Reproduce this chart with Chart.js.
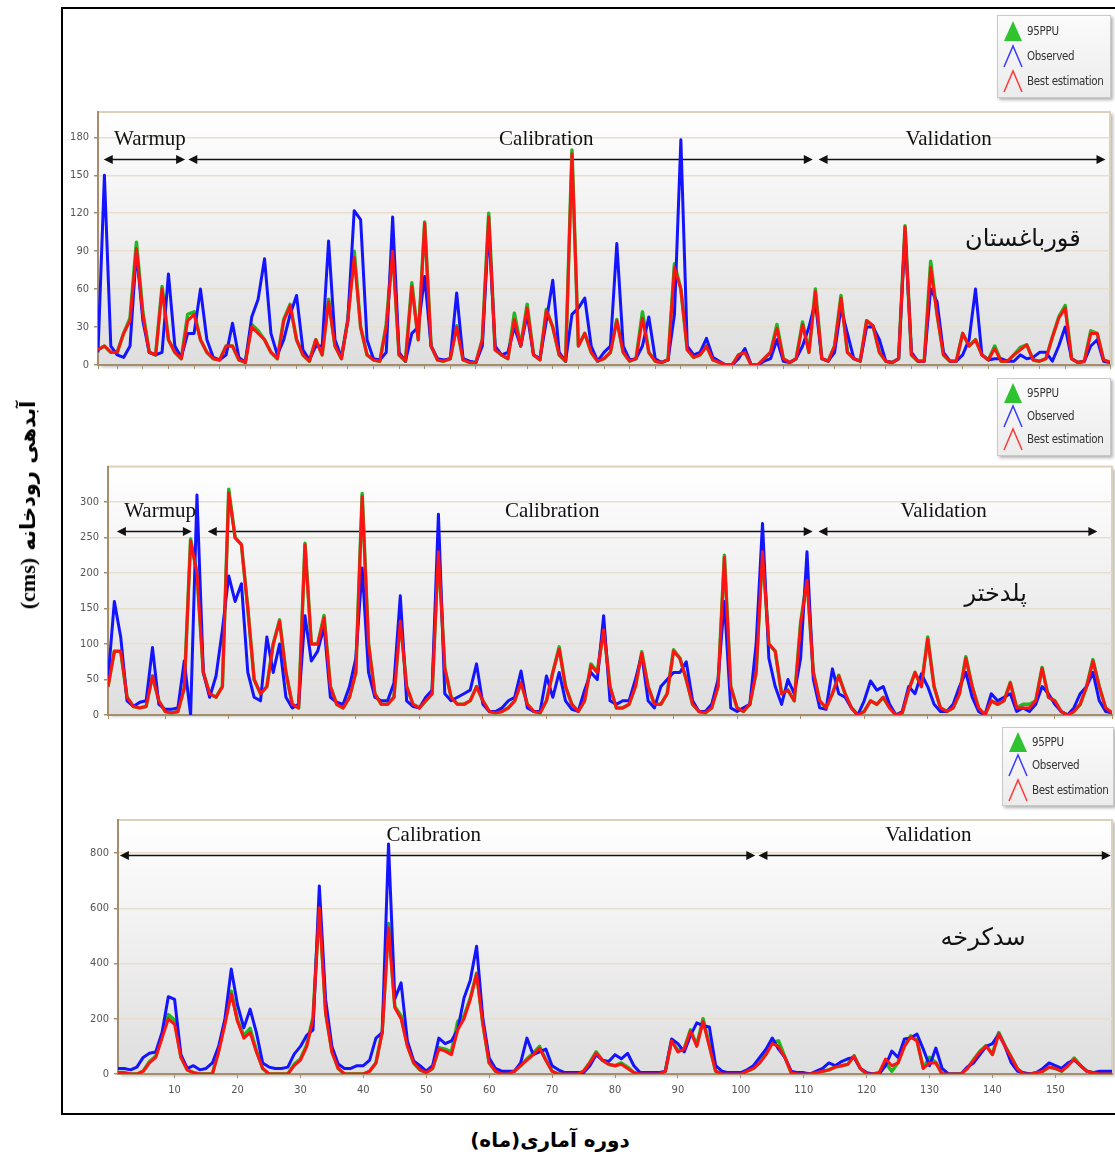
<!DOCTYPE html>
<html lang="fa">
<head>
<meta charset="UTF-8">
<title>Observed vs best estimation - three stations</title>
<script src="https://cdn.jsdelivr.net/npm/chart.js@4.4.1/dist/chart.umd.min.js"></script>
<style>
    body {
        margin: 0;
        width: 1115px;
        height: 1160px;
        overflow: hidden;
        position: relative;
        background: #fff;
        font-family: 'DejaVu Sans', sans-serif;
    }
    .frame {
        position: absolute;
        left: 61px; top: 7px;
        width: 1100px; height: 1108px;
        border: 2px solid #000;
        box-sizing: border-box;
    }
    canvas { position: absolute; left: 0; }
    .legend {
        position: absolute;
        background: linear-gradient(#fbfbfb, #ececec);
        border: 1px solid #c9c9c9;
        box-shadow: 2px 2px 3px rgba(0,0,0,.3);
        font: 11.5px 'DejaVu Sans Condensed', 'DejaVu Sans', sans-serif;
        color: #333;
        z-index: 2;
    }
    .legend .row {
        position: absolute; left: 5px; height: 24px;
        display: flex; align-items: center; gap: 4px;
        white-space: nowrap;
        letter-spacing: -0.3px;
    }
    .ytitle {
        position: absolute; left: 28px; top: 505px;
        transform: translate(-50%, -50%) rotate(-90deg);
        white-space: nowrap;
        font-weight: bold; font-size: 21px;
        direction: rtl;
    }
    .ytitle .cms { font-family: 'Liberation Serif', serif; font-size: 22px; unicode-bidi: isolate; direction: ltr; }
    .xtitle {
        position: absolute; left: 550px; top: 1140px;
        transform: translate(-50%, -50%);
        white-space: nowrap;
        font-weight: bold; font-size: 20px;
        direction: rtl;
    }
</style>
</head>
<body>

<div class="frame"></div>

<canvas id="c1" width="1115" height="280" style="top:100px"></canvas>
<canvas id="c2" width="1115" height="275" style="top:455px"></canvas>
<canvas id="c3" width="1115" height="305" style="top:805px"></canvas>

<div class="legend" style="left:997px;top:15px;width:112px;height:81px">
    <div class="row" style="top:3px"><svg width="20" height="22"><polygon points="10,1 19,21 1,21" fill="#2fc42f"/></svg>95PPU</div>
    <div class="row" style="top:28px"><svg width="20" height="24"><polyline points="1,23 10,2 19,23" fill="none" stroke="#3a3aff" stroke-width="1.5"/></svg>Observed</div>
    <div class="row" style="top:53px"><svg width="20" height="24"><polyline points="1,23 10,2 19,23" fill="none" stroke="#ff3a3a" stroke-width="1.5"/></svg>Best estimation</div>
</div>
<div class="legend" style="left:997px;top:378px;width:112px;height:76px">
    <div class="row" style="top:2px"><svg width="20" height="22"><polygon points="10,1 19,21 1,21" fill="#2fc42f"/></svg>95PPU</div>
    <div class="row" style="top:25px"><svg width="20" height="24"><polyline points="1,23 10,2 19,23" fill="none" stroke="#3a3aff" stroke-width="1.5"/></svg>Observed</div>
    <div class="row" style="top:48px"><svg width="20" height="24"><polyline points="1,23 10,2 19,23" fill="none" stroke="#ff3a3a" stroke-width="1.5"/></svg>Best estimation</div>
</div>
<div class="legend" style="left:1002px;top:727px;width:110px;height:77px">
    <div class="row" style="top:2px"><svg width="20" height="22"><polygon points="10,1 19,21 1,21" fill="#2fc42f"/></svg>95PPU</div>
    <div class="row" style="top:25px"><svg width="20" height="24"><polyline points="1,23 10,2 19,23" fill="none" stroke="#3a3aff" stroke-width="1.5"/></svg>Observed</div>
    <div class="row" style="top:50px"><svg width="20" height="24"><polyline points="1,23 10,2 19,23" fill="none" stroke="#ff3a3a" stroke-width="1.5"/></svg>Best estimation</div>
</div>

<div class="ytitle">آبدهی رودخانه <span class="cms">(cms)</span></div>
<div class="xtitle" dir="rtl">دوره آماری(ماه)</div>

<script>
// months of the record
const months = Array.from({length: 159}, (_, i) => i + 1);

// --- station 1: Ghorbaghestan ---
const p1Observed = [
    10,150,15,8,6,15,90,35,10,8,10,72,15,6,25,25,60,20,6,4,
    8,33,6,2,38,52,84,25,8,20,40,55,12,4,15,15,98,20,6,35,
    122,115,20,5,4,10,117,10,3,25,30,70,15,5,4,5,57,5,3,2,
    15,110,15,8,10,30,15,40,8,5,35,67,10,3,40,45,53,15,3,10,
    15,96,15,4,5,15,38,5,2,4,40,178,15,8,10,21,6,3,0,0,
    5,13,0,0,3,5,20,3,2,5,15,30,50,5,3,10,45,25,5,3,
    30,30,20,3,2,5,105,10,3,3,60,50,10,3,3,8,20,60,8,4,
    5,5,3,3,8,5,6,10,10,3,15,30,5,2,3,15,20,3,2
];
const p1Best = [
    12,15,10,10,25,35,92,40,10,8,60,20,10,5,35,40,20,10,5,4,
    15,15,4,2,30,25,20,10,5,35,47,20,8,3,20,8,50,15,5,35,
    85,30,8,4,3,30,90,8,3,62,20,112,15,4,3,5,30,4,2,2,
    20,117,12,8,5,36,15,45,8,4,43,30,8,3,167,15,25,10,3,5,
    10,35,10,3,5,37,10,3,2,4,77,60,12,6,8,15,4,2,0,0,
    8,10,0,0,5,10,29,5,2,5,32,10,58,5,3,15,53,10,5,3,
    35,31,10,3,2,5,109,8,3,3,77,40,8,3,3,25,15,20,8,4,
    13,3,3,8,12,16,4,3,5,22,37,45,5,2,3,25,25,4,2
];
const p1Ppu = [
    12,15,10,10,25,37,97,42,10,8,62,20,10,5,40,42,20,10,5,4,
    15,15,4,2,32,27,20,10,5,36,48,20,8,3,20,8,52,15,5,36,
    90,30,8,4,3,32,92,8,3,65,20,113,15,4,3,5,31,4,2,2,
    20,120,12,8,5,41,15,48,8,4,44,30,8,3,170,15,25,10,3,5,
    10,36,10,3,5,42,10,3,2,4,80,60,12,6,8,15,4,2,0,0,
    8,10,0,0,5,10,32,5,2,5,34,10,60,5,3,15,55,10,5,3,
    35,31,10,3,2,5,110,8,3,3,82,40,8,3,3,25,15,20,8,4,
    15,3,3,8,14,16,4,3,5,22,38,47,5,2,3,27,25,4,2
];
const p1YTicks = [0, 30, 60, 90, 120, 150, 180];
const p1Periods = ['Warmup', 'Calibration', 'Validation'];
const p1PeriodFrom = [1.9, 15.1, 113.5];
const p1PeriodTo = [14.6, 112.6, 158.3];
const p1LabelAt = [9.1, 71, 133.8];

// --- station 2: Poldokhtar ---
const p2Observed = [
    50,160,110,20,12,18,20,95,15,8,8,10,76,0,310,60,25,55,120,196,
    160,185,60,25,20,110,60,100,25,10,15,140,76,90,125,25,18,15,40,80,
    207,60,25,20,20,45,168,20,12,10,25,35,283,30,20,25,30,35,72,15,
    5,5,10,20,25,62,10,5,5,55,25,60,20,8,5,35,60,50,140,20,
    15,20,20,50,85,20,10,40,50,60,60,75,20,5,5,15,50,160,10,5,
    10,15,100,270,80,40,15,50,30,80,230,50,10,8,65,30,25,10,0,20,
    48,35,40,15,0,5,40,30,58,40,15,5,5,15,40,60,25,5,0,30,
    20,25,30,5,10,5,15,40,30,15,5,0,10,30,40,60,20,5,3
];
const p2Best = [
    40,90,90,25,12,10,12,55,20,5,3,5,38,245,200,60,30,25,40,313,
    250,240,150,50,30,40,100,132,60,15,10,240,100,100,137,40,15,10,25,60,
    308,100,30,15,15,25,132,40,15,10,20,30,230,66,25,15,15,20,40,20,
    5,3,5,10,20,45,15,5,3,20,60,93,40,15,5,20,70,60,120,40,
    10,10,15,40,87,40,15,15,30,90,80,50,15,5,3,10,40,222,40,10,
    5,15,60,230,100,90,30,35,20,128,190,60,20,10,30,55,30,10,0,5,
    20,15,25,10,0,3,35,60,40,107,40,10,5,10,30,80,40,10,0,20,
    15,20,45,10,10,10,20,66,25,20,5,0,5,15,40,76,40,10,3
];
const p2Ppu = [
    40,90,90,25,12,10,12,55,20,5,3,5,38,248,200,60,30,25,40,318,
    250,240,150,50,30,40,100,134,60,15,10,242,100,100,140,40,15,10,25,60,
    312,100,30,15,15,25,135,40,15,10,20,30,232,66,25,15,15,20,40,20,
    5,3,5,10,20,46,15,5,3,20,60,96,40,15,5,20,72,60,122,40,
    10,10,15,40,89,40,15,15,30,92,80,50,15,5,3,10,40,225,40,10,
    5,15,60,232,100,90,30,35,20,130,192,60,20,10,30,56,30,10,0,5,
    20,15,25,10,0,3,35,60,40,110,40,10,5,10,30,82,40,10,0,20,
    15,20,46,10,15,15,20,67,25,20,5,0,5,15,40,78,40,10,3
];
const p2YTicks = [0, 50, 100, 150, 200, 250, 300];
const p2Periods = ['Warmup', 'Calibration', 'Validation'];
const p2PeriodFrom = [2.4, 16.7, 112.8];
const p2PeriodTo = [14.2, 111.9, 156.7];
const p2LabelAt = [9.2, 70.9, 132.5];

// --- station 3: Sadd Karkheh ---
const p3Observed = [
    20,20,15,25,60,75,80,150,280,270,70,20,30,15,20,40,100,200,380,250,
    167,235,150,40,25,20,20,25,72,100,140,160,681,270,100,36,20,20,30,30,
    50,130,150,833,272,330,120,47,30,10,30,130,110,120,160,275,340,463,200,58,
    20,10,10,10,40,130,70,80,90,30,15,5,5,5,5,30,70,50,45,70,
    55,75,30,5,5,5,5,10,127,110,80,140,185,175,170,30,10,5,5,5,
    15,30,60,90,130,90,60,10,5,5,0,10,20,40,30,45,55,60,20,5,
    0,0,30,83,60,127,130,145,90,30,94,20,0,0,0,25,40,70,100,110,
    145,100,40,10,5,0,5,20,40,30,20,40,50,30,10,5,10,10,10
];
const p3Best = [
    5,5,0,0,10,40,60,130,200,180,60,15,5,0,0,0,80,180,290,190,
    130,150,80,20,0,0,0,0,30,50,100,200,602,220,80,20,0,0,0,0,
    10,40,150,530,240,200,100,40,15,5,20,90,83,70,160,200,270,362,180,40,
    10,0,0,10,30,50,70,94,50,10,0,0,0,0,10,40,76,50,35,30,
    35,20,5,0,0,0,0,10,120,80,90,155,100,190,100,10,0,0,0,0,
    10,20,40,70,110,100,60,5,0,0,0,5,10,15,25,30,35,65,20,0,
    0,5,54,30,40,100,134,120,20,40,40,0,0,0,0,20,50,80,101,70,
    145,100,60,18,0,0,5,10,25,20,10,30,54,30,10,5,0,0,0
];
const p3Ppu = [
    5,5,0,0,10,45,65,140,215,195,62,15,5,0,0,0,85,190,300,195,
    140,165,85,20,0,0,0,0,35,55,105,205,610,225,82,20,0,0,0,0,
    10,40,155,545,245,210,105,40,15,5,20,95,90,80,190,210,275,365,182,40,
    10,0,0,10,30,55,75,100,52,10,0,0,0,0,10,42,80,50,35,30,
    40,25,5,0,0,0,0,10,122,85,92,160,105,200,105,10,0,0,0,0,
    10,20,42,75,115,120,62,5,0,0,0,5,10,15,25,30,35,66,20,0,
    0,5,40,10,42,102,138,122,22,60,42,0,0,0,0,20,52,82,103,72,
    150,102,60,18,0,0,5,10,25,20,10,32,58,30,10,5,0,0,0
];
const p3YTicks = [0, 200, 400, 600, 800];
const p3XTicks = [10, 20, 30, 40, 50, 60, 70, 80, 90, 100, 110, 120, 130, 140, 150];
const p3Periods = ['Calibration', 'Validation'];
const p3PeriodFrom = [1.3, 102.8];
const p3PeriodTo = [102.3, 158.8];
const p3LabelAt = [51.2, 129.8];

const stationNames = ['قورباغستان', 'پلدختر', 'سدکرخه'];

const brown = '#a68e6c';

// gradient plot area with beige frame, like the original software
const plotBg = {
    id: 'plotBg',
    beforeDraw(chart) {
        const {ctx, chartArea: a} = chart;
        ctx.save();
        ctx.shadowColor = 'rgba(0,0,0,0.28)';
        ctx.shadowOffsetX = 3; ctx.shadowOffsetY = 2; ctx.shadowBlur = 3;
        const g = ctx.createLinearGradient(0, a.top, 0, a.bottom);
        g.addColorStop(0, '#ffffff');
        g.addColorStop(1, '#dedede');
        ctx.fillStyle = g;
        ctx.fillRect(a.left, a.top, a.width, a.height);
        ctx.restore();
        ctx.save();
        ctx.strokeStyle = '#ddd1bc';
        ctx.lineWidth = 2;
        ctx.strokeRect(a.left, a.top, a.width, a.height);
        ctx.restore();
    }
};

function arrowHead(ctx, x, y, dir) {
    ctx.beginPath();
    ctx.moveTo(x, y);
    ctx.lineTo(x + dir * 9, y - 4.5);
    ctx.lineTo(x + dir * 9, y + 4.5);
    ctx.closePath();
    ctx.fill();
}

// period arrows (Warmup / Calibration / Validation) and station name
const periodArrows = {
    id: 'periodArrows',
    beforeDatasetsDraw(chart, args, o) {
        const {ctx} = chart;
        const xs = chart.scales.x, ys = chart.scales.y;
        const yy = Math.round(ys.getPixelForValue(o.level)) + 0.5;
        ctx.save();
        ctx.strokeStyle = '#111';
        ctx.fillStyle = '#111';
        ctx.lineWidth = 1.6;
        o.names.forEach((name, i) => {
            const x1 = xs.getPixelForValue(o.from[i]);
            const x2 = xs.getPixelForValue(o.to[i]);
            ctx.beginPath();
            ctx.moveTo(x1 + 5, yy);
            ctx.lineTo(x2 - 5, yy);
            ctx.stroke();
            arrowHead(ctx, x1, yy, 1);
            arrowHead(ctx, x2, yy, -1);
            ctx.font = '21px "Liberation Serif", serif';
            ctx.textAlign = 'center';
            ctx.fillText(name, xs.getPixelForValue(o.labelAt[i]), yy - 15);
        });
        ctx.font = '24px "DejaVu Sans", sans-serif';
        ctx.direction = 'rtl';
        ctx.textAlign = 'center';
        ctx.textBaseline = 'middle';
        ctx.fillText(o.station, xs.getPixelForValue(o.stationAt), ys.getPixelForValue(o.stationLevel));
        ctx.restore();
    }
};

function makePanel(id, p) {
    return new Chart(document.getElementById(id), {
        type: 'line',
        data: {
            labels: months,
            datasets: [
                {label: 'Best estimation', data: p.best, borderColor: '#ff1414', borderWidth: 3},
                {label: 'Observed', data: p.observed, borderColor: '#1414ff', borderWidth: 3},
                {label: '95PPU', data: p.ppu, borderColor: '#22b822', borderWidth: 3.5}
            ]
        },
        options: {
            responsive: false,
            animation: false,
            devicePixelRatio: 1,
            layout: {padding: p.padding},
            elements: {
                point: {radius: 0},
                line: {tension: 0, borderJoinStyle: 'round'}
            },
            plugins: {
                legend: {display: false},
                tooltip: {enabled: false},
                periodArrows: {
                    names: p.periods, from: p.from, to: p.to, labelAt: p.labelAt,
                    level: p.level, station: p.station, stationAt: p.stationAt, stationLevel: p.stationLevel
                }
            },
            scales: {
                x: {
                    type: 'linear', min: 1, max: 159,
                    afterBuildTicks: axis => {
                        if (p.xTicks) axis.ticks = p.xTicks.map(v => ({value: v}));
                    },
                    afterFit: axis => { axis.height = p.xHeight; },
                    grid: {drawOnChartArea: false, drawTicks: true, tickLength: 4, tickColor: brown, color: brown},
                    border: {color: brown, width: 2},
                    ticks: {
                        display: !!p.xTicks,
                        stepSize: p.xStep,
                        color: '#555',
                        padding: 6,
                        maxRotation: 0,
                        font: {family: "'DejaVu Sans Condensed', 'DejaVu Sans', sans-serif", size: 11}
                    }
                },
                y: {
                    min: 0, max: p.yMax,
                    afterBuildTicks: axis => { axis.ticks = p.yTicks.map(v => ({value: v})); },
                    afterFit: axis => { axis.width = 36; },
                    grid: {color: '#e7dece', lineWidth: 1.5, drawTicks: true, tickLength: 4, tickColor: brown},
                    border: {color: brown, width: 2},
                    ticks: {
                        color: '#555',
                        padding: 5,
                        font: {family: "'DejaVu Sans Condensed', 'DejaVu Sans', sans-serif", size: 11}
                    }
                }
            }
        },
        plugins: [plotBg, periodArrows]
    });
}

makePanel('c1', {
    observed: p1Observed, best: p1Best, ppu: p1Ppu,
    yTicks: p1YTicks, yMax: 200, xStep: 4, xHeight: 6,
    padding: {left: 62, right: 5, top: 12, bottom: 9},
    periods: p1Periods, from: p1PeriodFrom, to: p1PeriodTo, labelAt: p1LabelAt, level: 163,
    station: stationNames[0], stationAt: 145.4, stationLevel: 99
});

makePanel('c2', {
    observed: p2Observed, best: p2Best, ppu: p2Ppu,
    yTicks: p2YTicks, yMax: 350, xStep: 10, xHeight: 6,
    padding: {left: 72, right: 3, top: 11, bottom: 9},
    periods: p2Periods, from: p2PeriodFrom, to: p2PeriodTo, labelAt: p2LabelAt, level: 259,
    station: stationNames[1], stationAt: 140.7, stationLevel: 170
});

makePanel('c3', {
    observed: p3Observed, best: p3Best, ppu: p3Ppu,
    yTicks: p3YTicks, yMax: 920, xTicks: p3XTicks, xHeight: 28,
    padding: {left: 82, right: 3, top: 15, bottom: 8},
    periods: p3Periods, from: p3PeriodFrom, to: p3PeriodTo, labelAt: p3LabelAt, level: 793,
    station: stationNames[2], stationAt: 138.5, stationLevel: 489
});
</script>
</body>
</html>
